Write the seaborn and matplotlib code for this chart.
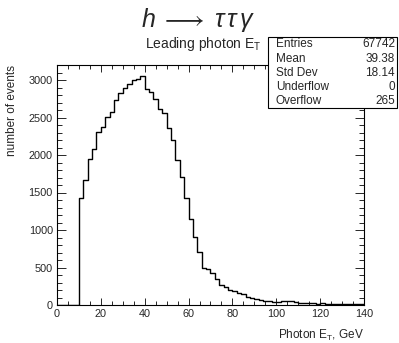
import numpy as np
import pandas as pd
import matplotlib
matplotlib.use("Agg")
import matplotlib.pyplot as plt
from matplotlib.patches import Rectangle
from matplotlib.ticker import MultipleLocator
import seaborn as sns

# ---- data ----
bin_edges = list(range(0, 142, 2))  # 70 bins, 0..140 GeV, 2 GeV wide
counts = [
    0, 0, 0, 0, 0,
    1422, 1667, 1947, 2076, 2311, 2369, 2502, 2569, 2733, 2822,
    2889, 2947, 3000, 3020, 3053, 2875, 2835, 2742, 2613, 2556,
    2355, 2200, 1940, 1702, 1422, 1142, 911, 711, 498, 480,
    422, 342, 267, 244, 200, 182, 156, 142, 111, 98,
    82, 72, 60, 55, 45, 38, 55, 52, 48, 40,
    32, 30, 26, 24, 18, 22, 16, 18, 15, 12,
    14, 10, 13, 9, 15,
]
stat_names = ["Entries", "Mean", "Std Dev", "Underflow", "Overflow"]
stat_values = ["67742", "39.38", "18.14", "0", "265"]
x_ticks = [0, 20, 40, 60, 80, 100, 120, 140]
y_ticks = [0, 500, 1000, 1500, 2000, 2500, 3000]

title = r"$h\;\longrightarrow\;\tau\,\tau\,\gamma$"
subtitle = r"Leading photon E$_{\mathregular{T}}$"
x_label = r"Photon E$_{\mathregular{T}}$, GeV"
y_label = "number of events"

# ---- style ----
sns.set_style("ticks")
plt.rcParams["font.family"] = ["Liberation Sans", "DejaVu Sans"]
plt.rcParams["mathtext.fontset"] = "custom"
plt.rcParams["mathtext.rm"] = "Liberation Sans"
plt.rcParams["mathtext.it"] = "Liberation Sans:italic"
plt.rcParams["mathtext.bf"] = "Liberation Sans:bold"

W, H = 399, 343
fig = plt.figure(figsize=(W / 100, H / 100), dpi=100)
fx = lambda px: px / W
fy = lambda py: 1 - py / H

left, right, top, bottom = 57, 364, 65, 305
ax = fig.add_axes([fx(left), fy(bottom), (right - left) / W, (bottom - top) / H])

df = pd.DataFrame({
    "center": [(bin_edges[i] + bin_edges[i + 1]) / 2 for i in range(len(counts))],
    "count": counts,
})
sns.histplot(data=df, x="center", weights="count", bins=bin_edges,
             element="step", fill=False, color="black", linewidth=1.0, ax=ax)

ax.set_xlim(0, 140)
ax.set_ylim(0, 3200)
ax.set_xticks(x_ticks)
ax.set_yticks(y_ticks)
ax.xaxis.set_minor_locator(MultipleLocator(5))
ax.yaxis.set_minor_locator(MultipleLocator(100))
ax.set_xlabel("")
ax.set_ylabel("")
for s in ax.spines.values():
    s.set_visible(True)
    s.set_linewidth(0.8)
    s.set_color("black")
ax.tick_params(axis="x", which="major", direction="in", length=5.2, width=0.7,
               top=True, labelsize=7.8, pad=3)
ax.tick_params(axis="x", which="minor", direction="in", length=2.7, width=0.7, top=True)
ax.tick_params(axis="y", which="major", direction="in", length=6.5, width=0.7,
               right=True, labelsize=7.8, pad=3)
ax.tick_params(axis="y", which="minor", direction="in", length=3.3, width=0.7, right=True)

# axis titles (ROOT style: aligned at axis end)
fig.text(fx(right), fy(335), x_label, ha="right", va="center", fontsize=8.5)
fig.text(fx(12), fy(top), y_label, ha="center", va="top", rotation=90, fontsize=8.5)

# titles
fig.text(fx(198), fy(27), title, ha="center", va="baseline", fontsize=18)
fig.text(fx(203), fy(48), subtitle, ha="center", va="baseline", fontsize=10)

# stats box
bx0, by0, bx1, by1 = 268, 37, 397, 108
fig.patches.append(Rectangle((fx(bx0), fy(by1)), (bx1 - bx0) / W, (by1 - by0) / H,
                             transform=fig.transFigure, facecolor="white",
                             edgecolor="black", linewidth=0.8, zorder=5))
row_y = [44, 58.5, 72.7, 87, 101]
for name, val, ry in zip(stat_names, stat_values, row_y):
    fig.text(fx(276), fy(ry), name, ha="left", va="center", fontsize=8.5, zorder=6)
    fig.text(fx(395), fy(ry), val, ha="right", va="center", fontsize=8.5, zorder=6)

fig.savefig("out.png", dpi=100, facecolor="white")
